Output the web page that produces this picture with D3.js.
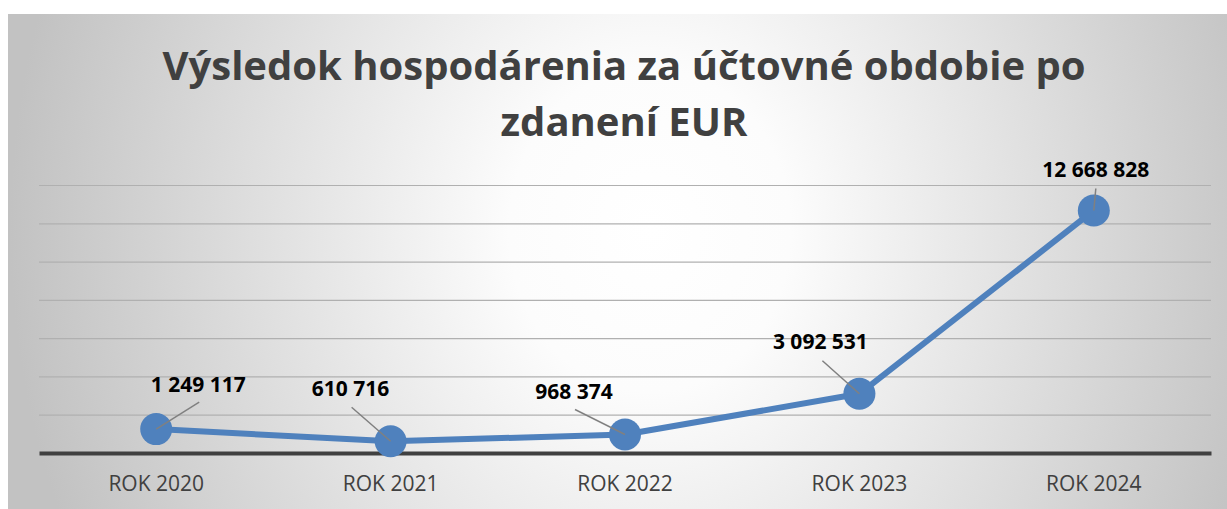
<!DOCTYPE html>
<html>
<head>
<meta charset="utf-8">
<script src="https://cdn.jsdelivr.net/npm/d3@7/dist/d3.min.js"></script>
<style>
  html, body { margin: 0; padding: 0; background: #ffffff; }
  svg { display: block; }
</style>
</head>
<body>
<svg id="chart" width="1227" height="509"></svg>
<script>
// ---- data ----
const categories = ["ROK 2020", "ROK 2021", "ROK 2022", "ROK 2023", "ROK 2024"];
const values = [1249117, 610716, 968374, 3092531, 12668828];
const gridTicks = [0, 2000000, 4000000, 6000000, 8000000, 10000000, 12000000, 14000000];
const titleLines = ["Výsledok hospodárenia za účtovné obdobie po", "zdanení EUR"];

// ---- layout (label offsets relative to the point) ----
const labelOffsets = [
  {dx: 42, dy: -37, lx: 43, ly: -27},
  {dx: -40, dy: -45, lx: -39, ly: -34},
  {dx: -51, dy: -35, lx: -50, ly: -25},
  {dx: -39, dy: -45, lx: -37, ly: -33},
  {dx: 2, dy: -33, lx: 2, ly: -22}
];

const W = 1227, H = 509;
const plot = {left: 39, right: 1211, top: 185, bottom: 453};

const svg = d3.select("#chart");
const defs = svg.append("defs");
const grad = defs.append("radialGradient")
  .attr("id", "bg")
  .attr("gradientUnits", "userSpaceOnUse")
  .attr("cx", 650).attr("cy", 230).attr("r", 640)
  .attr("gradientTransform", "translate(650,230) scale(1,1.15) translate(-650,-230)");
grad.append("stop").attr("offset", "0%").attr("stop-color", "#ffffff");
grad.append("stop").attr("offset", "22%").attr("stop-color", "#fcfcfc");
grad.append("stop").attr("offset", "100%").attr("stop-color", "#c2c2c2");

svg.append("rect").attr("x", 8).attr("y", 14).attr("width", W - 8).attr("height", H - 14)
  .attr("fill", "url(#bg)");

const x = d3.scaleBand().domain(categories).range([plot.left, plot.right]).padding(0);
const y = d3.scaleLinear().domain([0, 14000000]).range([plot.bottom, plot.top]);
const cx = d => x(d) + x.bandwidth() / 2;

// gridlines
const grid = svg.append("g")
  .attr("transform", `translate(${plot.left},0)`)
  .call(d3.axisLeft(y).tickValues(gridTicks.filter(v => v > 0)).tickSize(-(plot.right - plot.left)).tickFormat(""));
grid.select(".domain").remove();
grid.selectAll(".tick line").attr("stroke", "#b0b0b0").attr("stroke-width", 1.2);

// x axis
const xAxis = svg.append("g")
  .attr("transform", `translate(0,${plot.bottom})`)
  .call(d3.axisBottom(x).tickSize(0).tickPadding(23));
xAxis.select(".domain").attr("stroke", "#404040").attr("stroke-width", 4);
xAxis.selectAll(".tick text")
  .attr("font-family", "'Open Sans', sans-serif")
  .attr("font-size", 21)
  .attr("fill", "#404040");

// line
const pts = categories.map((c, i) => ({c, v: values[i], i}));
svg.append("path")
  .datum(pts)
  .attr("fill", "none")
  .attr("stroke", "#4f81bd")
  .attr("stroke-width", 6)
  .attr("stroke-linejoin", "round")
  .attr("d", d3.line().x(d => cx(d.c)).y(d => y(d.v)));

svg.selectAll("circle.pt")
  .data(pts).enter().append("circle")
  .attr("class", "pt")
  .attr("cx", d => cx(d.c)).attr("cy", d => y(d.v)).attr("r", 16)
  .attr("fill", "#4f81bd");

// leader lines
svg.selectAll("line.leader")
  .data(pts).enter().append("line")
  .attr("class", "leader")
  .attr("x1", d => cx(d.c) + labelOffsets[d.i].lx)
  .attr("y1", d => y(d.v) + labelOffsets[d.i].ly)
  .attr("x2", d => cx(d.c))
  .attr("y2", d => y(d.v))
  .attr("stroke", "#808080").attr("stroke-width", 1.5);

// data labels
const fmt = d3.formatLocale({decimal: ",", thousands: " ", grouping: [3], currency: ["", " €"]}).format(",d");
svg.selectAll("text.lbl")
  .data(pts).enter().append("text")
  .attr("class", "lbl")
  .attr("x", d => cx(d.c) + labelOffsets[d.i].dx)
  .attr("y", d => y(d.v) + labelOffsets[d.i].dy)
  .attr("text-anchor", "middle")
  .attr("font-family", "'Open Sans', sans-serif")
  .attr("font-weight", "bold")
  .attr("font-size", 21)
  .attr("fill", "#000000")
  .text(d => fmt(d.v));

// title
svg.selectAll("text.title")
  .data(titleLines).enter().append("text")
  .attr("class", "title")
  .attr("x", 624)
  .attr("y", (d, i) => 80 + i * 56)
  .attr("text-anchor", "middle")
  .attr("font-family", "'Open Sans', sans-serif")
  .attr("font-weight", "bold")
  .attr("font-size", 40)
  .attr("fill", "#404040")
  .text(d => d);
</script>
</body>
</html>
